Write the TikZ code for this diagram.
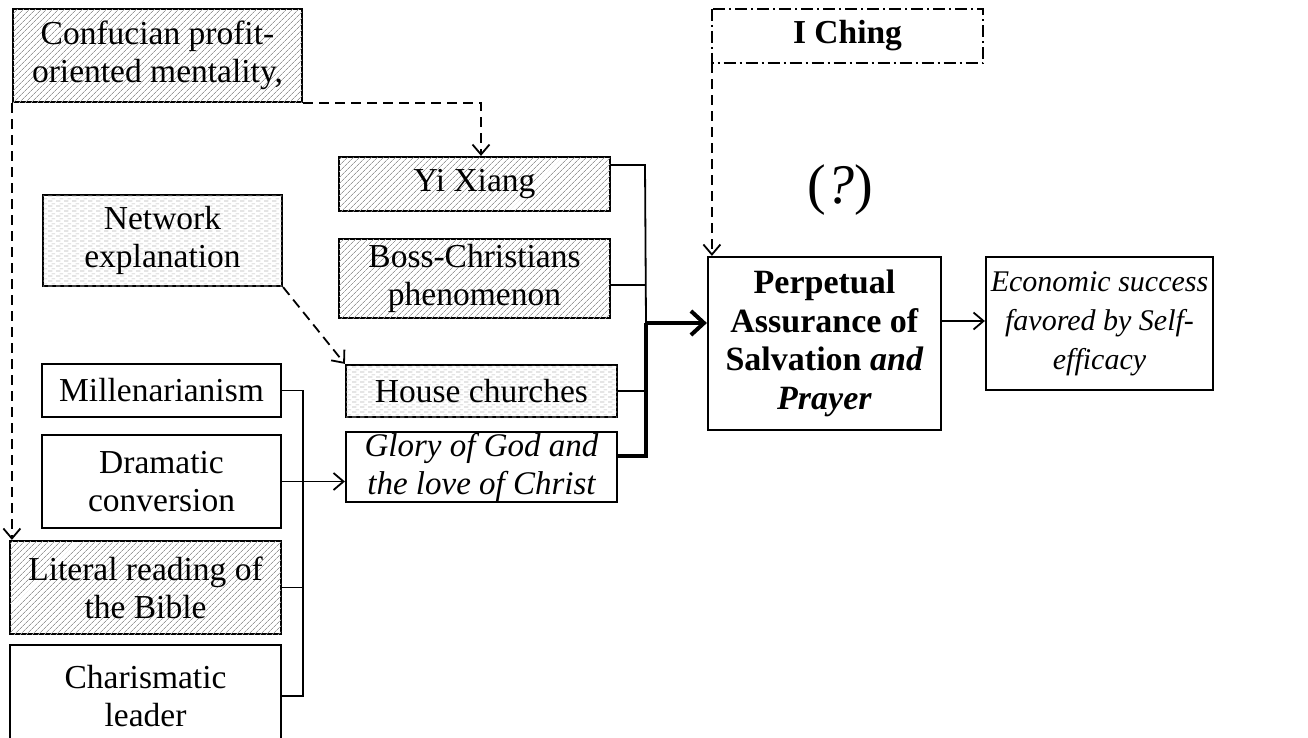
\documentclass[tikz,border=0pt]{standalone}
\usepackage{fontspec}
\setmainfont{Liberation Serif}
\usetikzlibrary{arrows.meta,patterns,patterns.meta,calc}

% light horizontal dashes used as a second fill texture
\pgfdeclarepattern{
  name=hdashes, type=uncolored,
  bottom left={\pgfpoint{0pt}{0pt}}, top right={\pgfpoint{8pt}{5pt}},
  tile size={\pgfpoint{8pt}{5pt}},
  code={\pgfsetlinewidth{0.8pt}
    \pgfpathmoveto{\pgfpoint{0pt}{1.2pt}}\pgfpathlineto{\pgfpoint{5pt}{1.2pt}}
    \pgfpathmoveto{\pgfpoint{4pt}{3.7pt}}\pgfpathlineto{\pgfpoint{8pt}{3.7pt}}
    \pgfusepath{stroke}}
}

\tikzset{
  box/.style={draw=black, line width=2.2pt, fill=white, align=center, inner sep=0pt,
    font=\fontsize{33.5}{38}\selectfont},
  hatched/.style={box, postaction={pattern={Lines[angle=45,distance=4pt,line width=0.8pt]}, pattern color=black!40}},
  dotted box/.style={box, postaction={pattern=hdashes, pattern color=black!28}},
  wire/.style={line width=1.8pt},
  thickwire/.style={line width=4.5pt},
  tip/.style={-{Straight Barb[length=10pt,width=17pt,line width=1.8pt]}},
  dashwire/.style={wire, dash pattern=on 10pt off 6pt},
}

\begin{document}
\begin{tikzpicture}[x=1pt,y=-1pt]
\useasboundingbox (0,0) rectangle (1308,737);
\clip (0,0) rectangle (1308,737);

% boxes
\node[hatched, minimum width=289pt, minimum height=93pt] (conf) at (157.5,55.5) {Confucian profit-\\oriented mentality,};
\node[box, draw=none, minimum width=269pt, minimum height=52pt] (iching) at (847.5,36) {\textbf{I Ching}};
\draw[line width=1.6pt, dash pattern=on 12pt off 4pt on 2pt off 4pt] (iching.north west) rectangle (iching.south east);
\node[hatched, minimum width=271pt, minimum height=54pt] (yi) at (474.5,184) {Yi Xiang};
\node[hatched, minimum width=271pt, minimum height=79pt] (boss) at (474.5,278.5) {Boss-Christians\\phenomenon};
\node[dotted box, minimum width=239pt, minimum height=91pt] (net) at (162.5,240.5) {Network\\explanation};
\node[dotted box, minimum width=271pt, minimum height=52pt] (house) at (481.5,391) {House churches};
\node[box, minimum width=271pt, minimum height=70pt, font=\fontsize{33}{38}\selectfont\itshape] (glory) at (481.5,467) {Glory of God and\\the love of Christ};
\node[box, minimum width=239pt, minimum height=53pt] (mill) at (161.5,390.5) {Millenarianism};
\node[box, minimum width=239pt, minimum height=93pt] (dram) at (161.5,481.5) {Dramatic\\conversion};
\node[hatched, minimum width=271pt, minimum height=93pt] (lit) at (145.5,587.5) {Literal reading of\\the Bible};
\node[box, minimum width=271pt, minimum height=102pt] (char) at (145.5,696) {Charismatic\\leader};
\node[box, minimum width=233pt, minimum height=173pt, font=\fontsize{34}{38.5}\selectfont] (perp) at (824.5,343.5) {\textbf{Perpetual}\\\textbf{Assurance of}\\\textbf{Salvation \textit{and}}\\\textbf{\textit{Prayer}}};
\node[box, minimum width=227pt, minimum height=133pt, font=\fontsize{30}{39}\selectfont\itshape] (econ) at (1099.5,323.5) {Economic success\\favored by Self-\\efficacy};
\node[font=\fontsize{56}{60}\selectfont] (q) at (840,190) {(\textit{?})};

% dashed influences
\draw[dashwire, tip] (conf.south east) -- ($(conf.south east -| yi.north)+(6.5,0)$) -- ($(yi.north)+(6.5,0)$);
\draw[dashwire, tip] (conf.south west) -- (conf.south west |- lit.north);
\draw[dashwire, tip] (iching.south west) -- (iching.south west |- perp.north);
\draw[dashwire, tip] (net.south east) -- (house.north west);

% left bracket feeding Glory of God
\coordinate (lb) at (303,0);
\draw[wire] (mill.east) -- (mill.east -| lb) -- (char.east -| lb) -- (char.east);
\draw[wire] (lit.east) -- (lit.east -| lb);
\draw[wire, tip] (dram.east) -- (dram.east -| glory.west);

% right bracket feeding the central box
\coordinate (rb) at (645,0);
\coordinate (join) at (646,323);
\draw[wire] ($(yi.east)+(0,-19)$) -- ($(yi.east -| rb)+(0,-19)$) -- (join);
\draw[wire] ($(boss.east)+(0,6.5)$) -- ($(boss.east -| rb)+(0,6.5)$);
\draw[wire] (house.east) -- (house.east -| rb);
\draw[thickwire] ($(glory.east)+(0,-11)$) -- ($(glory.east -| join)+(0,-11)$) -- (join);
\draw[thickwire, -{Straight Barb[length=13pt,width=24pt,line width=4pt]}] (join) -- (join -| perp.west);

% outcome
\draw[wire, tip] ($(perp.east)+(0,-22.5)$) -- ($(perp.east -| econ.west)+(0,-22.5)$);
\end{tikzpicture}
\end{document}
